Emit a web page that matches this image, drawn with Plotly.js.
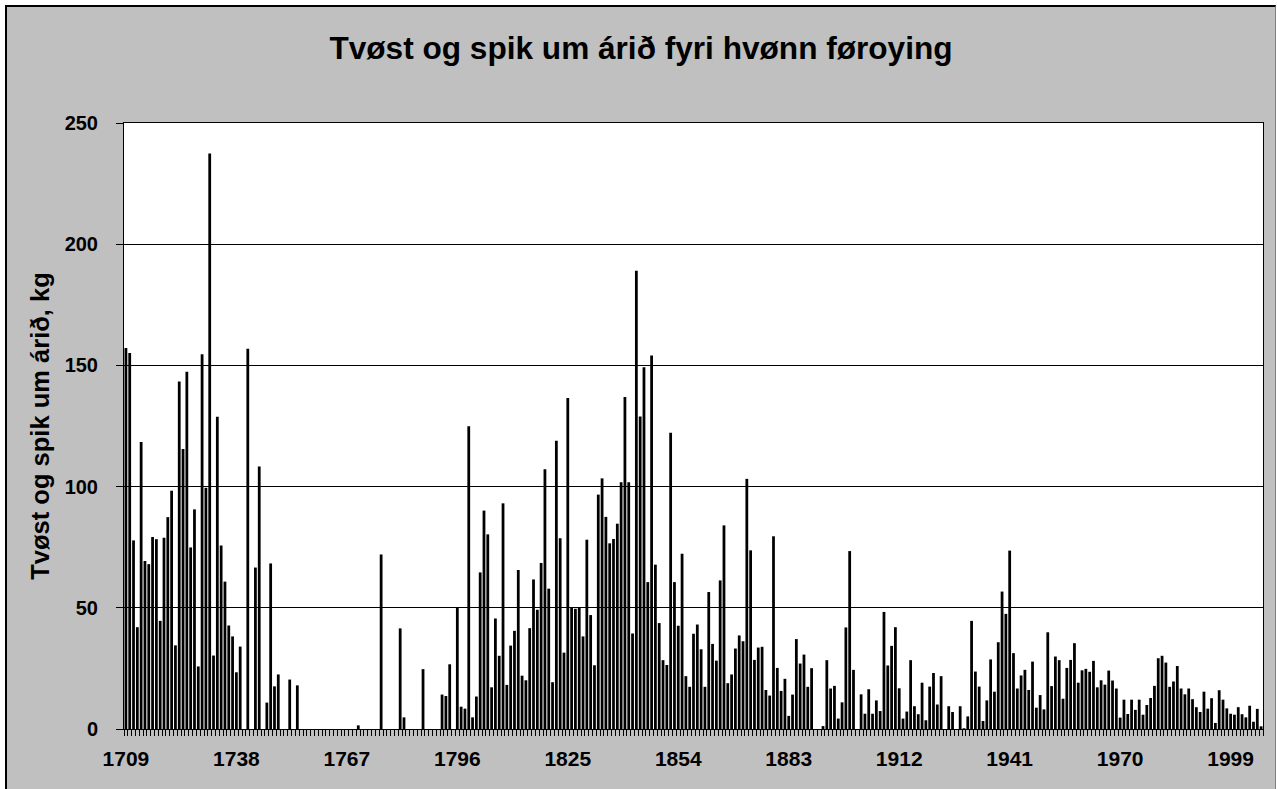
<!DOCTYPE html>
<html>
<head>
<meta charset="utf-8">
<script src="https://cdn.plot.ly/plotly-3.0.1.min.js"></script>
<style>
html, body { margin: 0; padding: 0; background: #ffffff; overflow: hidden; }
#wrap { position: absolute; left: 5px; top: 5px; border-top: 2px solid #000; border-left: 2px solid #000; border-right: 1px solid #808080; background: #C0C0C0; }
#chart { width: 1268px; height: 782px; }
</style>
</head>
<body>
<div id="wrap"><div id="chart"></div></div>
<script>
// ---- data ----
const firstYear = 1709;   // first category on the axis; one bar per year
const kgPerPerson = [
  157.2, 155.1, 77.8, 42, 118.4, 69.3, 68, 79.2, 78.3, 44.6,        // 1709-1718
  78.9, 87.4, 98.3, 34.5, 143.4, 115.5, 147.4, 74.9, 90.6, 25.8,     // 1719-1728
  154.6, 99.5, 237.4, 30.3, 128.8, 75.7, 60.8, 42.7, 38.2, 23.4,     // 1729-1738
  34, 0, 156.9, 0, 66.6, 108.3, 0, 10.9, 68.3, 17.6,                 // 1739-1748
  22.5, 0, 0, 20.4, 0, 18, 0, 0, 0, 0,                               // 1749-1758
  0, 0, 0, 0, 0, 0, 0, 0, 0, 0,                                      // 1759-1768
  0, 1.5, 0, 0, 0, 0, 0, 72, 0, 0,                                   // 1769-1778
  0, 0, 41.5, 4.8, 0, 0, 0, 0, 24.7, 0,                              // 1779-1788
  0, 0, 0, 14.2, 13.6, 26.7, 0, 50.1, 9.2, 8.4,                      // 1789-1798
  124.9, 4.8, 13.4, 64.6, 90.1, 80.3, 17.2, 45.6, 30.2, 93.1,        // 1799-1808
  18.2, 34.4, 40.5, 65.6, 22, 20.1, 41.6, 61.7, 49.2, 68.5,          // 1809-1818
  107.2, 57.9, 19.3, 118.9, 78.7, 31.5, 136.5, 50.1, 49.6, 50.1,     // 1819-1828
  38.2, 78.1, 47, 26.3, 96.7, 103.4, 87.5, 76.6, 78.4, 84.7,         // 1829-1838
  101.8, 137, 101.8, 39.4, 189, 128.9, 149.2, 60.6, 154.1, 67.8,     // 1839-1848
  43.7, 28.4, 26.4, 122.2, 60.6, 42.6, 72.3, 21.8, 17.4, 39.3,       // 1849-1858
  43.1, 32.9, 17.4, 56.5, 35.1, 28.2, 61.3, 84, 18.9, 22.5,          // 1859-1868
  33.2, 38.6, 36.2, 103.2, 73.7, 28.5, 33.6, 33.9, 16.1, 13.8,       // 1869-1878
  79.5, 25.2, 15.7, 20.7, 5.4, 14.2, 37.1, 27, 30.7, 17.4,           // 1879-1888
  25.1, 0, 0, 1.2, 28.4, 16.7, 17.8, 4.3, 11, 41.9,                  // 1889-1898
  73.4, 24.4, 0, 14.3, 6.3, 16.4, 6.3, 11.8, 7.4, 48.3,              // 1899-1908
  26.2, 34.3, 42, 16.8, 4.3, 7.2, 28.4, 9.4, 6.1, 19.1,              // 1909-1918
  3.6, 17.5, 23.1, 10.1, 21.8, 0, 9.4, 7, 0, 9.4,                    // 1919-1928
  0.3, 5.2, 44.6, 23.7, 17.5, 3.3, 11.8, 28.7, 15.4, 35.8,           // 1929-1938
  56.7, 47.5, 73.6, 31.3, 16.7, 22.1, 24.4, 16.1, 27.8, 8.8,         // 1939-1948
  14, 8.1, 39.9, 17.7, 29.9, 28.4, 12.5, 25.2, 28.5, 35.4,           // 1949-1958
  19.1, 24.2, 24.8, 23.6, 28.1, 17.2, 20.1, 18.3, 24.1, 20,          // 1959-1968
  16.7, 4.7, 12.1, 6.2, 12.1, 7.9, 12.1, 5.9, 9.9, 12.8,             // 1969-1978
  17.8, 29.2, 30.2, 27.4, 17.4, 19.6, 26, 16.7, 14.3, 16.7,          // 1979-1988
  12.3, 9, 7, 15.4, 8.4, 12.7, 2.5, 16, 12.1, 8.5,                   // 1989-1998
  6.3, 5.9, 9, 6.1, 4.8, 9.6, 3, 8.3, 1.1                            // 1999-2007
];
const tickYears = [1709, 1738, 1767, 1796, 1825, 1854, 1883, 1912, 1941, 1970, 1999];
const yTickValues = [0, 50, 100, 150, 200, 250];
const chartTitle = 'Tvøst og spik um árið fyri hvønn føroying';
const yAxisTitle = 'Tvøst og spik um árið, kg';

// ---- derived ----
const years = kgPerPerson.map((_, i) => firstYear + i);
const lastYear = years[years.length - 1];

const fam = 'Arial, "Liberation Sans", sans-serif';
const W = 1268, H = 782;

const trace = {
  type: 'bar',
  x: years,
  y: kgPerPerson,
  marker: { color: '#000000', line: { width: 0 } },
  hoverinfo: 'x+y'
};

const layout = {
  width: W, height: H,
  paper_bgcolor: '#C0C0C0',
  plot_bgcolor: '#FFFFFF',
  margin: { l: 117, r: 12, t: 116, b: 60, pad: 0 },
  showlegend: false,
  bargap: 0.27,
  title: {
    text: chartTitle,
    font: { family: fam, size: 31.6, color: '#000', weight: 700 },
    x: 0.5, xref: 'container', xanchor: 'center',
    y: 1 - 41 / H, yref: 'container', yanchor: 'middle'
  },
  xaxis: {
    type: 'linear',
    range: [firstYear - 0.5, lastYear + 0.5],
    tickmode: 'array',
    tickvals: tickYears,
    ticktext: tickYears.map(String),
    ticks: 'outside', ticklen: 6, tickcolor: 'rgba(0,0,0,0)',
    minor: { tickmode: 'linear', tick0: firstYear - 0.5, dtick: 1, ticks: 'outside', ticklen: 6, tickcolor: '#000', tickwidth: 1, showgrid: false },
    showline: true, linecolor: '#000', linewidth: 1, mirror: true,
    showgrid: false, zeroline: false,
    ticklabelstandoff: 5,
    tickfont: { family: fam, size: 21, color: '#000', weight: 700 },
    fixedrange: true
  },
  yaxis: {
    range: [0, 250],
    tickmode: 'array',
    tickvals: yTickValues,
    ticktext: yTickValues.map(String),
    ticks: 'outside', ticklen: 7, tickcolor: '#000', tickwidth: 1,
    showline: true, linecolor: '#000', linewidth: 1, mirror: true,
    showgrid: true, gridcolor: '#000', gridwidth: 1,
    zeroline: false,
    ticklabelstandoff: 14,
    tickfont: { family: fam, size: 20, color: '#000', weight: 700 },
    title: { text: yAxisTitle, font: { family: fam, size: 25.5, color: '#000', weight: 700 }, standoff: 7 },
    fixedrange: true
  }
};

Plotly.newPlot('chart', [trace], layout, { displayModeBar: false, staticPlot: true });
</script>
</body>
</html>
